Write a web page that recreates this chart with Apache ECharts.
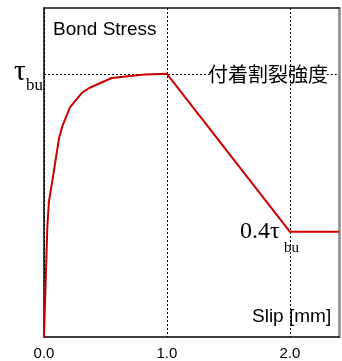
<!DOCTYPE html>
<html><head><meta charset="utf-8">
<script src="https://cdn.jsdelivr.net/npm/echarts@6/dist/echarts.min.js"></script>
<style>html,body{margin:0;padding:0;background:#fff}#c{width:342px;height:361px}</style>
</head><body><div id="c"></div>
<script>
var slip = [0, 0.027, 0.04, 0.071, 0.122, 0.149, 0.211, 0.307, 0.368, 0.55, 0.82, 1.0, 2.0, 2.4];
var stress = [0, 0.418, 0.514, 0.603, 0.755, 0.80, 0.872, 0.927, 0.946, 0.984, 0.997, 1.0, 0.4, 0.4];
var xTicks = [0, 1, 2];
var tauBu = 1.0;
var xMax = 2.4, yMax = 1.25;

var chart = echarts.init(document.getElementById('c'), null, {renderer:'canvas'});
var pts = slip.map(function(x,i){return [x, stress[i]];});
var serif = 'Liberation Serif';
chart.setOption({
  animation:false,
  grid:{left:44, right:3, top:8, bottom:24},
  xAxis:[{
    type:'value', min:0, max:xMax, interval:1,
    axisLine:{show:true, onZero:false, lineStyle:{color:'#000', width:1.5}},
    axisTick:{show:false},
    axisLabel:{color:'#000', fontSize:15, fontFamily:'Liberation Sans', margin:9,
      formatter:function(v){return xTicks.indexOf(v)>=0 ? v.toFixed(1) : '';}},
    splitLine:{show:true, lineStyle:{color:'#000', type:[2,2], width:1}}
  },{
    type:'value', position:'top', min:0, max:xMax,
    axisLine:{show:true, onZero:false, lineStyle:{color:'#111', width:1.5}},
    axisTick:{show:false}, axisLabel:{show:false}, splitLine:{show:false}
  }],
  yAxis:[{
    type:'value', min:0, max:yMax,
    axisLine:{show:true, onZero:false, lineStyle:{color:'#000', width:1.5}},
    axisTick:{show:false}, axisLabel:{show:false}, splitLine:{show:false}
  },{
    type:'value', position:'right', min:0, max:yMax,
    axisLine:{show:true, onZero:false, lineStyle:{color:'#888', width:2.5}},
    axisTick:{show:false}, axisLabel:{show:false}, splitLine:{show:false}
  }],
  series:[{
    type:'line', data:pts, symbol:'none', z:3,
    lineStyle:{color:'#cc0000', width:2},
    markLine:{silent:true, symbol:'none', label:{show:false}, z:2,
      lineStyle:{color:'#000', type:[2,2], width:1},
      data:[
        [{coord:[0,tauBu]},{coord:[1.35,tauBu]}],
        [{coord:[2.3,tauBu]},{coord:[xMax,tauBu]}]
      ]}
  }],
  graphic:[
    {type:'text', left:53, top:20, style:{text:'Bond Stress', fontSize:19, fontFamily:'Liberation Sans', fill:'#000'}},
    {type:'text', left:252, top:307, style:{text:'Slip [mm]', fontSize:19, fontFamily:'Liberation Sans', fill:'#000'}},
    {type:'text', left:208, top:64, style:{text:'付着割裂強度', fontSize:20, fontFamily:'Noto Sans CJK JP', fill:'#000'}},
    {type:'text', left:14, top:58, style:{text:'τ', fontSize:29, fontFamily:serif, fill:'#000'}},
    {type:'text', left:26, top:77, style:{text:'bu', fontSize:17, fontFamily:serif, fill:'#000'}},
    {type:'text', left:240, top:220, style:{text:'0.4τ', fontSize:24, fontFamily:serif, fill:'#000'}},
    {type:'text', left:284, top:241, style:{text:'bu', fontSize:15, fontFamily:serif, fill:'#000'}}
  ]
});
</script></body></html>
